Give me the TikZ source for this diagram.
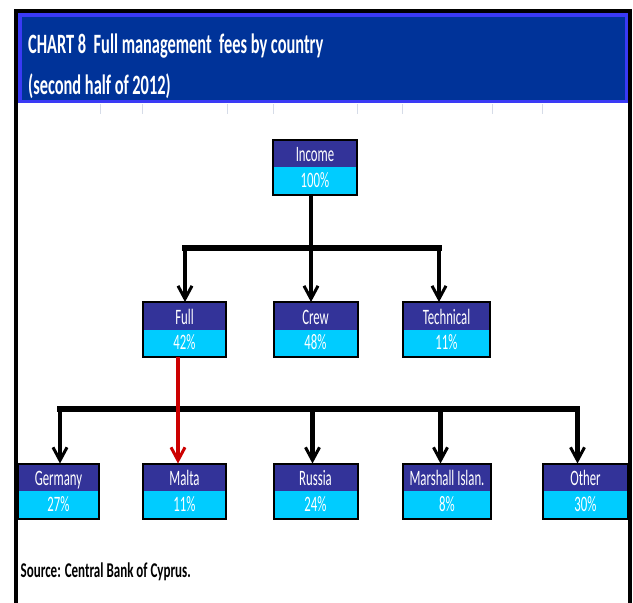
\documentclass[tikz,border=0pt]{standalone}
\usepackage{fontspec}
\usepackage{graphicx}
\setmainfont{Carlito}
\newfontfamily\ttlfont[FakeStretch=0.585]{Carlito}
\newfontfamily\srcfont[FakeStretch=0.62]{Carlito}
\newfontfamily\bxfont[FakeStretch=0.58]{Carlito}
\usetikzlibrary{arrows.meta,calc}
\definecolor{banner}{HTML}{003399}
\definecolor{bannerline}{HTML}{3A3AF5}
\definecolor{hdr}{HTML}{333399}
\definecolor{val}{HTML}{00CCFF}
\definecolor{redline}{HTML}{CC0000}
\definecolor{gridc}{HTML}{D6DCE8}
\tikzset{
  cbox/.style={draw=black, line width=2pt, minimum height=55pt, inner sep=0pt, outer sep=0pt,
    path picture={
      \fill[hdr] (path picture bounding box.north west) rectangle (path picture bounding box.east);
      \fill[val] (path picture bounding box.west) rectangle (path picture bounding box.south east);
    }},
  boxtxt/.style={anchor=base, inner sep=0pt, text=white, font=\bxfont\fontsize{22}{24}\selectfont},
  bus/.style={line width=5.5pt, line cap=rect, black},
  arr/.style={line width=4.5pt, black, -{Straight Barb[length=13pt,width=14pt,line width=3pt]}},
  redarr/.style={line width=4pt, redline, -{Straight Barb[length=13pt,width=14pt,line width=3pt]}},
  tick/.style={gridc, line width=0.8pt}
}
\newcommand{\catbox}[6]{%
  \node[cbox, minimum width=#4pt] (#1) at (#2,#3) {};
  \node[boxtxt] (#1-l) at ([yshift=5.5pt]#1.center) {#5};
  \node[boxtxt] (#1-v) at ([yshift=-20pt]#1.center) {#6};
}
\begin{document}
\begin{tikzpicture}[x=1pt,y=-1pt]
\useasboundingbox (0,0) rectangle (633,603);
\fill[white] (0,0) rectangle (633,603);
% faint grid ticks under the banner
\foreach \gx in {100,142,227,273,357,402,492,542}{\draw[tick] (\gx,104) -- (\gx,114);}
% banner
\filldraw[fill=banner, draw=bannerline, line width=3.5pt] (20,15) rectangle (626.5,101.5);
% frame
\draw[line width=4pt, line join=miter] (16,603) -- (16,11) -- (630,11) -- (630,603);
% title
\node[anchor=base west, inner sep=0pt, text=white, font=\ttlfont\bfseries\fontsize{28}{30}\selectfont] (t1) at (28,53) {CHART 8\ \ Full management\ \ fees by country};
\node[anchor=base west, inner sep=0pt, text=white, font=\ttlfont\bfseries\fontsize{28}{30}\selectfont] (t2) at (28,94) {(second half of 2012)};
% boxes
\catbox{inc}{315}{167}{84}{Income}{100\%}
\catbox{full}{184.5}{329.5}{83}{Full}{42\%}
\catbox{crew}{315.5}{329.5}{84}{Crew}{48\%}
\catbox{tech}{446.5}{329.5}{87}{Technical}{11\%}
\catbox{ger}{58.5}{491}{81}{Germany}{27\%}
\catbox{mal}{184.5}{491}{83}{Malta}{11\%}
\catbox{rus}{315.5}{491}{84}{Russia}{24\%}
\catbox{mar}{447}{491}{88}{Marshall Islan.}{8\%}
\catbox{oth}{585.5}{491}{85}{Other}{30\%}
% level 1 connectors
\coordinate (a1) at (185,248);
\coordinate (a2) at (311,248);
\coordinate (a3) at (439,248);
\draw[line width=4.5pt] (inc.south -| a2) -- (a2);
\draw[bus] (a1) -- (a3);
\draw[arr] (a1) -- (full.north -| a1);
\draw[arr] (a2) -- (crew.north -| a2);
\draw[arr] (a3) -- (tech.north -| a3);
% level 2 connectors
\coordinate (b1) at (60,409);
\coordinate (b2) at (312.5,409);
\coordinate (b3) at (440.5,409);
\coordinate (b4) at (577.5,409);
\coordinate (r) at (178,409);
\draw[bus] (b1) -- (b4);
\draw[arr] (b1) -- (ger.north -| b1);
\draw[arr] (b2) -- (rus.north -| b2);
\draw[arr] (b3) -- (mar.north -| b3);
\draw[arr] (b4) -- (oth.north -| b4);
\draw[redarr] (full.south -| r) -- (mal.north -| r);
% source
\node[anchor=base west, inner sep=0pt, text=black, font=\srcfont\bfseries\fontsize{21}{23}\selectfont] (src) at (20.5,577.5) {Source: Central Bank of Cyprus.};
\end{tikzpicture}
\end{document}
